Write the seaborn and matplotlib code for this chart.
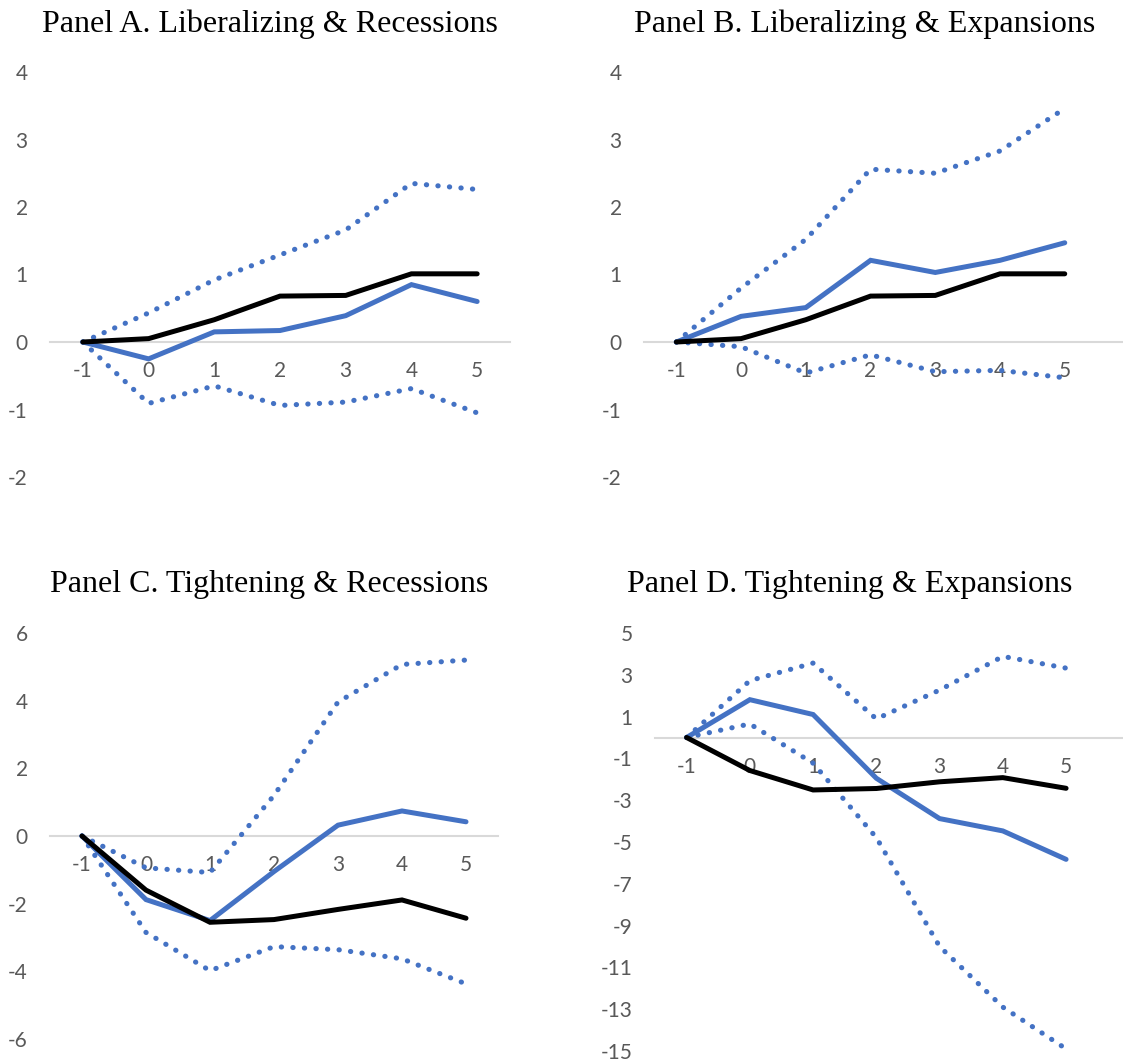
import matplotlib
matplotlib.use("Agg")
import matplotlib.pyplot as plt
import numpy as np
import pandas as pd
import seaborn as sns

# horizons (years relative to event)
horizon = [-1, 0, 1, 2, 3, 4, 5]

# Panel A. Liberalizing & Recessions
a_black = [0, 0.05, 0.33, 0.68, 0.69, 1.01, 1.01]
a_blue = [0, -0.25, 0.15, 0.17, 0.39, 0.85, 0.60]
a_upper = [0, 0.43, 0.92, 1.29, 1.66, 2.35, 2.26]
a_lower = [0, -0.91, -0.65, -0.94, -0.89, -0.69, -1.05]

# Panel B. Liberalizing & Expansions
b_black = [0, 0.05, 0.33, 0.68, 0.69, 1.01, 1.01]
b_blue = [0, 0.38, 0.51, 1.21, 1.03, 1.21, 1.47]
b_upper = [0, 0.80, 1.52, 2.56, 2.50, 2.83, 3.46]
b_lower = [0, -0.07, -0.46, -0.19, -0.44, -0.42, -0.53]

# Panel C. Tightening & Recessions
c_black = [0, -1.60, -2.55, -2.47, -2.17, -1.89, -2.43]
c_blue = [0, -1.88, -2.50, -1.05, 0.32, 0.74, 0.42]
c_upper = [0, -0.94, -1.08, 1.20, 3.96, 5.07, 5.20]
c_lower = [0, -2.85, -3.98, -3.27, -3.36, -3.63, -4.37]

# Panel D. Tightening & Expansions
d_black = [0, -1.58, -2.51, -2.44, -2.12, -1.92, -2.43]
d_blue = [0, 1.81, 1.10, -1.95, -3.88, -4.47, -5.83]
d_upper = [0, 2.72, 3.56, 0.89, 2.27, 3.88, 3.32]
d_lower = [0, 0.65, -1.23, -4.79, -10.0, -12.9, -14.9]

titles = ["Panel A. Liberalizing & Recessions", "Panel B. Liberalizing & Expansions",
          "Panel C. Tightening & Recessions", "Panel D. Tightening & Expansions"]
y_ticks = [[-2, -1, 0, 1, 2, 3, 4], [-2, -1, 0, 1, 2, 3, 4],
           [-6, -4, -2, 0, 2, 4, 6], list(range(-15, 6, 2))]

panels = [
    (a_black, a_blue, a_upper, a_lower),
    (b_black, b_blue, b_upper, b_lower),
    (c_black, c_blue, c_upper, c_lower),
    (d_black, d_blue, d_upper, d_lower),
]

sns.set_style("white")
plt.rcParams["font.family"] = ["Lato", "DejaVu Sans"]

W, H = 1123, 1062
fig = plt.figure(figsize=(W / 100, H / 100), dpi=100)

# axes boxes in pixels: left, right, top, bottom
boxes = [(50, 510, 72, 477), (644, 1123, 72, 477),
         (50, 498, 633, 1039), (655, 1123, 633, 1051)]
xlims = [(-1.5, 5.5), (-1.5, 5.9), (-1.5, 5.5), (-1.5, 5.9)]
# title centre x, baseline y (pixels)
title_pos = [(270, 32), (865, 32), (269, 592), (850, 592)]

blue = "#4472C4"
grey_txt = "#595959"

for i, (blk, blu, up, lo) in enumerate(panels):
    l, r, t, b = boxes[i]
    ax = fig.add_axes([l / W, 1 - b / H, (r - l) / W, (b - t) / H])
    ax.set_facecolor("none")
    for s in (up, lo):
        sns.lineplot(x=horizon, y=s, ax=ax, color=blue, lw=3.7,
                     linestyle=(0, (0.05, 2.2)), dash_capstyle="round")
    sns.lineplot(x=horizon, y=blu, ax=ax, color=blue, lw=3.6,
                 solid_capstyle="round", solid_joinstyle="miter")
    sns.lineplot(x=horizon, y=blk, ax=ax, color="black", lw=3.6,
                 solid_capstyle="round", solid_joinstyle="miter")

    ax.set_xlim(*xlims[i])
    yt = y_ticks[i]
    ax.set_ylim(yt[0], yt[-1])
    ax.set_yticks(yt)
    ax.set_yticklabels([str(v) for v in yt])
    ax.set_xticks(horizon)
    ax.set_xticklabels([str(v) for v in horizon])

    for side in ("top", "right", "left"):
        ax.spines[side].set_visible(False)
    ax.spines["bottom"].set_position(("data", 0))
    ax.spines["bottom"].set_color("#d9d9d9")
    ax.spines["bottom"].set_linewidth(1.5)
    ax.spines["bottom"].set_zorder(0)
    ax.tick_params(axis="both", length=0, labelsize=15, labelcolor=grey_txt)
    ax.tick_params(axis="y", pad=16)
    ax.tick_params(axis="x", pad=14)
    ax.set_xlabel("")
    ax.set_ylabel("")
    ax.grid(False)

    tx, ty = title_pos[i]
    fig.text(tx / W, 1 - ty / H, titles[i], ha="center", va="baseline",
             fontsize=23, family="Liberation Serif", color="black")

fig.savefig("out.png", dpi=100)
